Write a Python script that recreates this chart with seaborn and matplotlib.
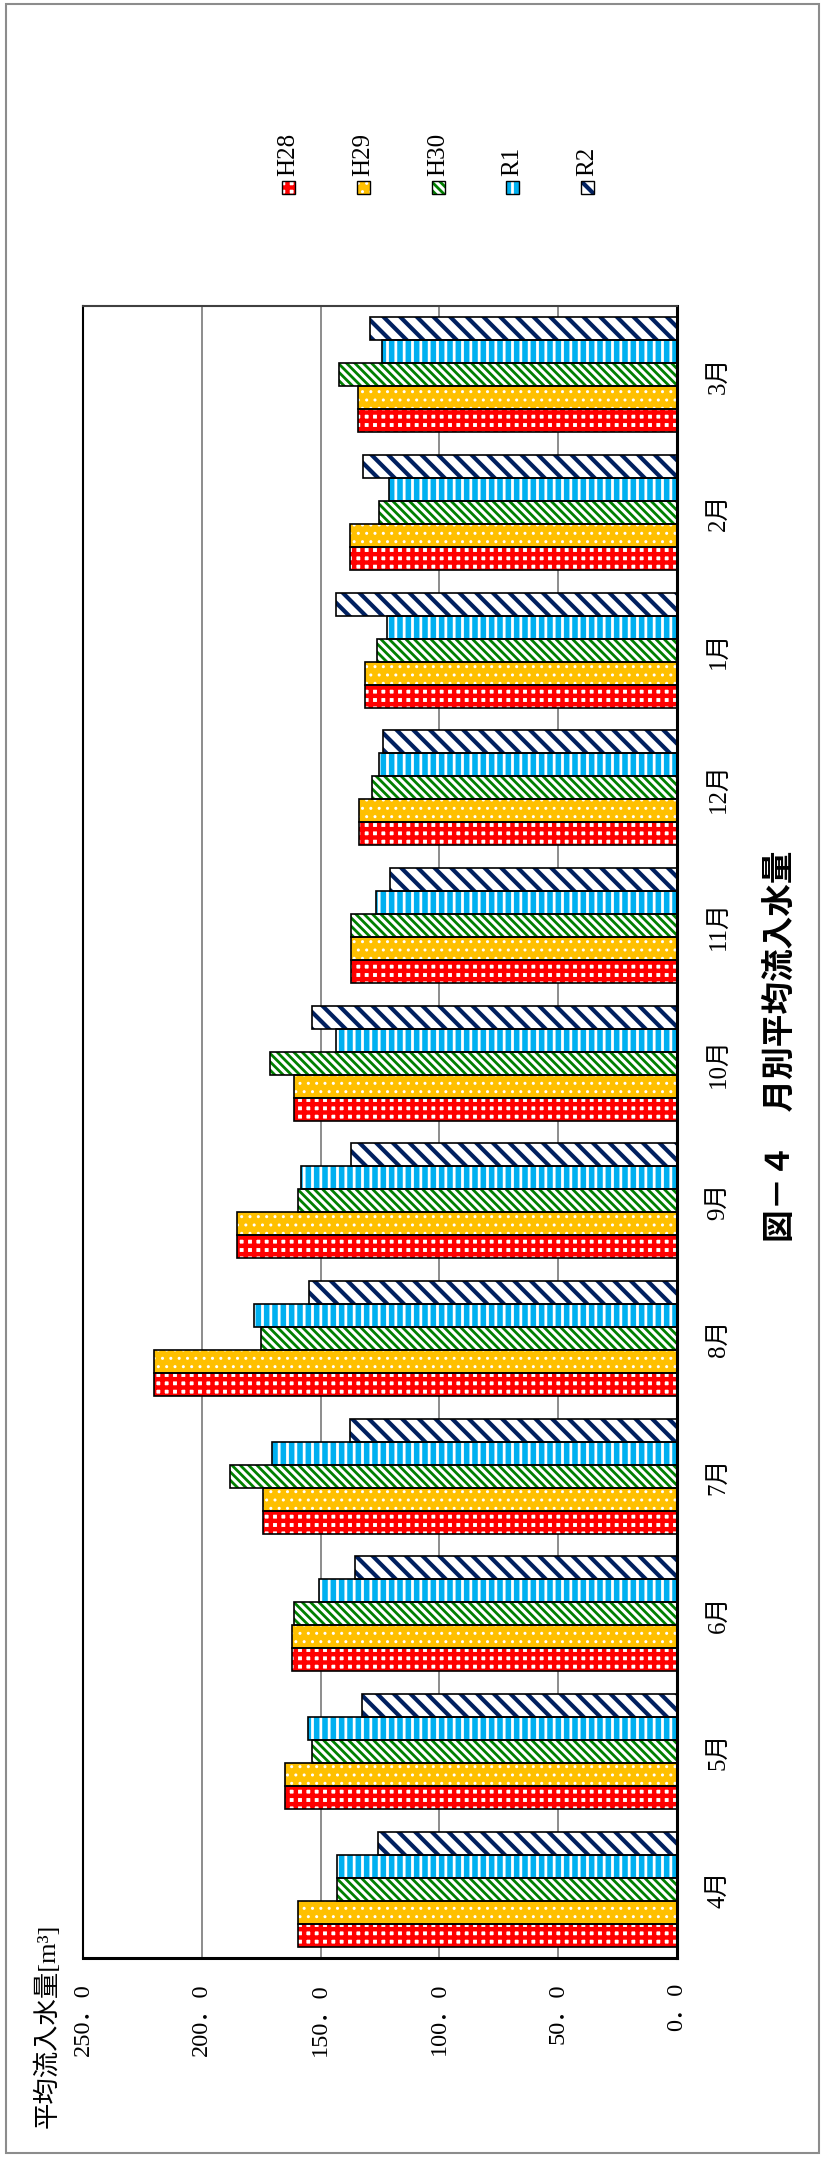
import matplotlib
matplotlib.use("Agg")
import matplotlib.pyplot as plt
from matplotlib.patches import Rectangle
from matplotlib.colors import to_rgba
import numpy as np
import pandas as pd
import seaborn as sns

# ── data ─────────────────────────────────────────────────────────────
months = ["4月", "5月", "6月", "7月", "8月", "9月", "10月", "11月", "12月", "1月", "2月", "3月"]
years = ["H28", "H29", "H30", "R1", "R2"]

h28 = [159.5, 165.0, 162.2, 174.2, 220.0, 185.3, 161.4, 137.4, 133.8, 131.2, 137.6, 134.1]
h29 = [159.5, 165.0, 162.2, 174.2, 220.0, 185.3, 161.4, 137.4, 133.8, 131.2, 137.6, 134.1]
h30 = [143.2, 153.8, 161.0, 188.2, 174.9, 159.7, 171.2, 137.1, 128.5, 126.2, 125.4, 142.4]
r1 = [143.2, 155.5, 150.6, 170.4, 178.1, 158.4, 143.7, 126.7, 125.6, 121.9, 121.1, 124.2]
r2 = [125.8, 132.5, 135.4, 137.6, 154.8, 137.1, 153.8, 121.0, 123.8, 143.7, 132.2, 129.3]

value_ticks = [0, 50, 100, 150, 200, 250]

title = "図－４　月別平均流入水量"
value_label = "平均流入水量[m³]"

# ── styles: main colour, face, hatch colour, hatch, hatch width ─────
main_colors = ["#FF0000", "#FFC000", "#008000", "#00B0F0", "#002060"]
styles = {
    "H28": dict(face="white", hc="#FF0000", hatch="++", hlw=3.2),
    "H29": dict(face="#FFC000", hc="white", hatch="..", hlw=1.0),
    "H30": dict(face="white", hc="#008000", hatch="\\\\\\\\", hlw=2.0),
    "R1": dict(face="#00B0F0", hc="white", hatch="||", hlw=2.0),
    "R2": dict(face="white", hc="#002060", hatch="\\\\", hlw=3.0),
}

SERIF = ["Liberation Serif", "Noto Sans CJK JP"]
GOTHIC = ["Noto Sans CJK JP", "DejaVu Sans"]

df = pd.DataFrame({
    "month": np.tile(months, len(years)),
    "year": np.repeat(years, len(months)),
    "value": np.concatenate([h28, h29, h30, r1, r2]),
})

W, H = 822, 2158
fig = plt.figure(figsize=(W / 100, H / 100), dpi=100)
ax = fig.add_axes([83 / W, 1 - 1958 / H, (677 - 83) / W, (1958 - 306) / H])

sns.barplot(data=df, x="value", y="month", hue="year", order=months, hue_order=years,
            orient="h", width=5 / 6, palette=main_colors, saturation=1,
            legend=False, errorbar=None, ax=ax)


def style_patch(p, st):
    p.set_facecolor(st["face"])
    p.set_edgecolor(st["hc"])
    p.set_hatch(st["hatch"])
    p.set_linewidth(0)
    if hasattr(p, "set_hatch_linewidth"):
        p.set_hatch_linewidth(st["hlw"])


color_to_year = {tuple(np.round(to_rgba(c), 3)): y for c, y in zip(main_colors, years)}
bars = [p for p in ax.patches if isinstance(p, Rectangle)]
for p in bars:
    key = tuple(np.round(p.get_facecolor(), 3))
    yr = color_to_year.get(key)
    if yr is None:
        continue
    style_patch(p, styles[yr])
    ax.add_patch(Rectangle(p.get_xy(), p.get_width(), p.get_height(), fill=False,
                           edgecolor="black", lw=1.2, zorder=p.get_zorder() + 0.1))

# axes cosmetics
ax.set_xlim(250, 0)
ax.set_ylim(-0.5, len(months) - 0.5)
ax.set_xticks(value_ticks)
ax.set_xticklabels([f"{v:.1f}".replace(".", "．") for v in value_ticks])
ax.xaxis.grid(True, color="#8c8c8c", lw=1.4)
ax.yaxis.grid(False)
ax.set_axisbelow(True)
ax.set_xlabel("")
ax.set_ylabel("")
ax.yaxis.tick_right()
ax.tick_params(axis="x", length=0, pad=18, labelrotation=90)
ax.tick_params(axis="y", length=0, pad=22, labelrotation=90)
for lbl in ax.get_xticklabels():
    lbl.set_family(SERIF)
    lbl.set_fontsize(17.5)
for lbl in ax.get_yticklabels():
    lbl.set_family(SERIF)
    lbl.set_fontsize(18)
    lbl.set_va("center")

for side, lw, col in [("right", 2.2, "black"), ("bottom", 2.2, "black"),
                      ("left", 1.5, "black"), ("top", 1.5, "#404040")]:
    ax.spines[side].set_linewidth(lw)
    ax.spines[side].set_color(col)

# title and value-axis title (rotated with the chart)
fig.text(780 / W, 1 - 1046 / H, title, rotation=90, ha="center", va="center",
         fontsize=23.5, fontweight="bold", family=GOTHIC)
fig.text(46 / W, 1 - 2128 / H, value_label, rotation=90, ha="center", va="bottom",
         fontsize=19, family=SERIF)

# legend, drawn by hand because the whole chart is turned on its side
leg_x = [288, 363, 438, 512, 587]
box = 13
for x, yr in zip(leg_x, years):
    st = styles[yr]
    r = Rectangle(((x - box / 2) / W, 1 - (187 + box / 2) / H), box / W, box / H,
                  transform=fig.transFigure)
    style_patch(r, st)
    fig.add_artist(r)
    fig.add_artist(Rectangle(((x - box / 2) / W, 1 - (187 + box / 2) / H), box / W, box / H,
                             transform=fig.transFigure, fill=False, edgecolor="black", lw=1.0))
    fig.text(x / W, 1 - 176 / H, yr, rotation=90, ha="center", va="bottom",
             fontsize=18, family=SERIF)

# outer frame
fig.add_artist(Rectangle((6 / W, 5 / H), (W - 9) / W, (H - 9) / H, transform=fig.transFigure,
                         fill=False, edgecolor="#8c8c8c", lw=1.5))

fig.savefig("out.png", dpi=100)
